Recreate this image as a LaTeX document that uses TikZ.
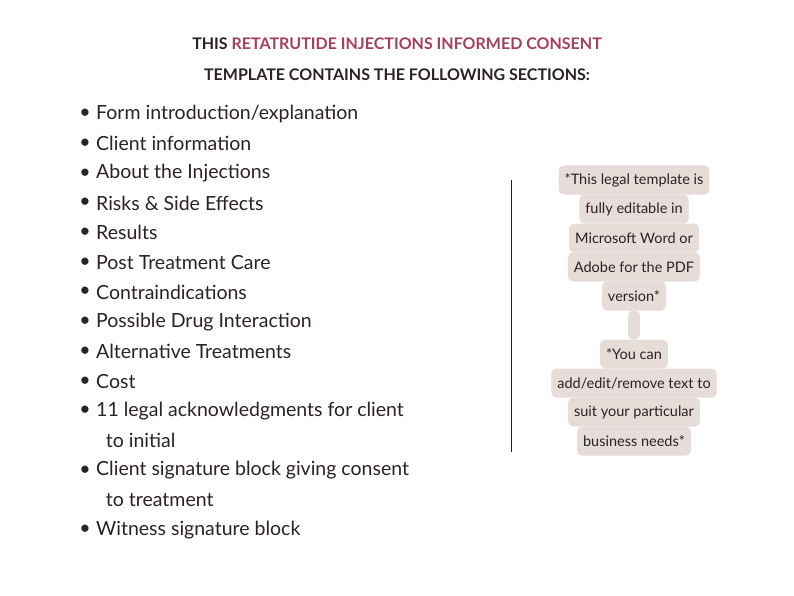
\documentclass[tikz,border=0pt]{standalone}
\usepackage{fontspec}
\setmainfont{Lato}
\usetikzlibrary{positioning}
\definecolor{ink}{HTML}{2B2222}
\definecolor{rose}{HTML}{A4405E}
\definecolor{note}{HTML}{E6DCD8}
\begin{document}
\begin{tikzpicture}[x=1pt,y=-1pt,
  title/.style={font=\fontsize{16}{18}\selectfont\bfseries,text=ink},
  item/.style={font=\fontsize{19.5}{22}\selectfont,text=ink,anchor=west,inner sep=0pt},
  noteline/.style={font=\fontsize{14.5}{16}\selectfont,text=ink,fill=note,rounded corners=5pt,
    minimum height=29pt,inner xsep=6pt,inner ysep=0pt}]
  \useasboundingbox (0,0) rectangle (794,596);

  % heading
  \node[title] (t1) at (397,44) {THIS \textcolor{rose}{RETATRUTIDE INJECTIONS INFORMED CONSENT}};
  \node[title] (t2) at (397,75) {TEMPLATE CONTAINS THE FOLLOWING SECTIONS:};

  % sections
  \foreach \txt [count=\i] in {Form introduction/explanation,Client information,
    About the Injections,Risks \& Side Effects,Results,Post Treatment Care,
    Contraindications,Possible Drug Interaction,Alternative Treatments,Cost,
    11 legal acknowledgments for client,\phantom{x}to initial,
    Client signature block giving consent,\phantom{x}to treatment,
    Witness signature block}
    \node[item] (s\i) at (96,{114+29.7*(\i-1)}) {\txt};
  \foreach \i in {1,...,11,13,15}
    \node[item,anchor=east] (b\i) at ([xshift=-5pt]s\i.west) {\textbullet};

  % divider
  \coordinate (top) at (511,180);
  \coordinate (bot) at (511,452);
  \draw[ink,line width=1pt] (top) -- (bot);

  % note
  \node[noteline] (n1) at (634,180) {*This legal template is};
  \node[noteline] (n2) at (634,209) {fully editable in};
  \node[noteline] (n3) at (634,238) {Microsoft Word or};
  \node[noteline] (n4) at (634,267) {Adobe for the PDF};
  \node[noteline] (n5) at (634,296) {version*};
  \node[noteline,minimum width=10pt] (n6) at (634,325) {};
  \node[noteline] (n7) at (634,354) {*You can};
  \node[noteline] (n8) at (634,383) {add/edit/remove text to};
  \node[noteline] (n9) at (634,412) {suit your particular};
  \node[noteline] (n10) at (634,441) {business needs*};
\end{tikzpicture}
\end{document}
